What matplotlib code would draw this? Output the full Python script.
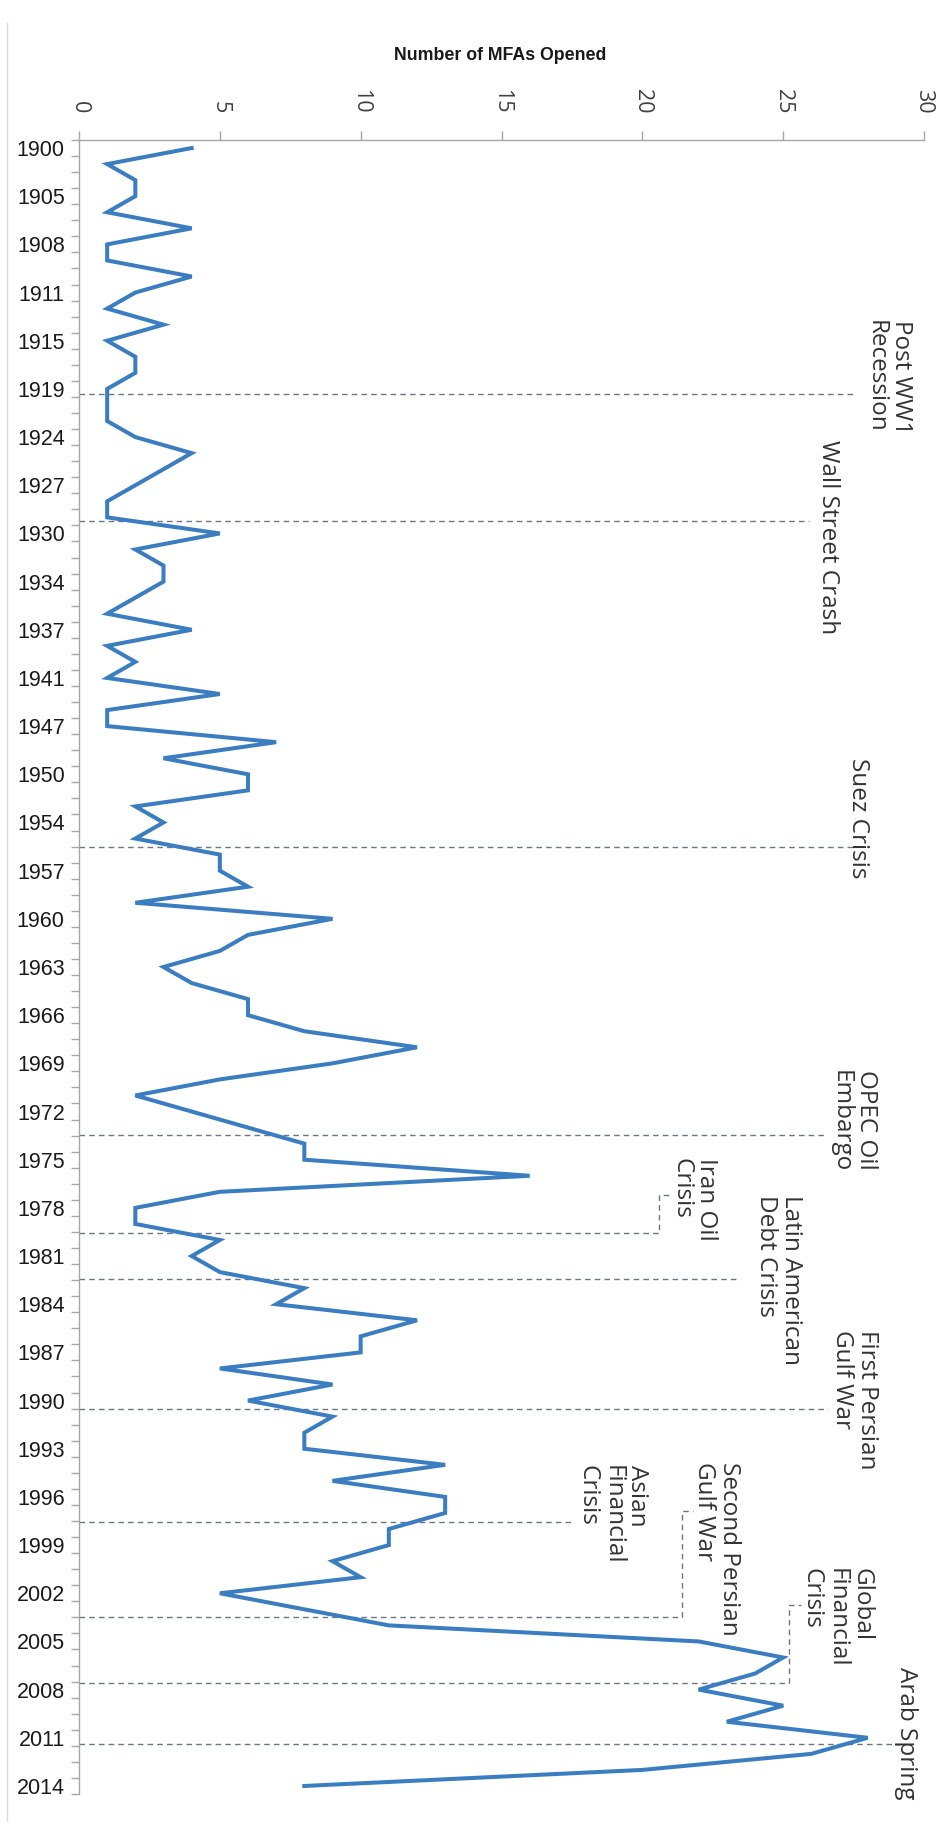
import numpy as np
import matplotlib
matplotlib.use("Agg")
import matplotlib.pyplot as plt
from matplotlib.lines import Line2D

# MFAs opened per category, top to bottom (one category per listed year)
counts = [4, 1, 2, 2, 1, 4, 1, 1, 4, 2, 1, 3, 1, 2, 2, 1, 1, 1,
          2, 4, 3, 2, 1, 1, 5, 2, 3, 3, 2, 1, 4, 1, 2, 1, 5, 1,
          1, 7, 3, 6, 6, 2, 3, 2, 5, 5, 6, 2, 9, 6, 5, 3, 4, 6,
          6, 8, 12, 9, 5, 2, 4, 6, 8, 8, 16, 5, 2, 2, 5, 4, 5, 8,
          7, 12, 10, 10, 5, 9, 6, 9, 8, 8, 13, 9, 13, 13, 11, 11,
          9, 10, 5, 8, 11, 22, 25, 24, 22, 25, 23, 28, 26, 20, 8]

# every third category carries a year label
tick_years = [1900, 1905, 1908, 1911, 1915, 1919, 1924, 1927, 1930, 1934,
              1937, 1941, 1947, 1950, 1954, 1957, 1960, 1963, 1966, 1969,
              1972, 1975, 1978, 1981, 1984, 1987, 1990, 1993, 1996, 1999,
              2002, 2005, 2008, 2011, 2014]

value_ticks = [0, 5, 10, 15, 20, 25, 30]

# crisis markers: label and category position of the marker line
event_names = ["Post WW1\nRecession", "Wall Street Crash", "Suez Crisis",
               "OPEC Oil\nEmbargo", "Iran Oil\nCrisis",
               "Latin American\nDebt Crisis", "First Persian\nGulf War",
               "Asian\nFinancial\nCrisis", "Second Persian\nGulf War",
               "Global\nFinancial\nCrisis", "Arab Spring"]
event_pos = [15.34, 23.2, 43.55, 61.48, 67.55, 70.45, 78.52, 85.54,
             91.46, 95.57, 99.4]

# line end, elbow (top, tail) or None, label anchor (x, y)
event_layout = [
    (27.5, None, (29.6, 10.7)),
    (25.9, None, (27.0, 18.2)),
    (27.6, None, (28.1, 38.0)),
    (26.5, None, (28.35, 57.4)),
    (20.6, (65.2, 21.0), (22.7, 62.9)),
    (23.4, None, (25.7, 65.2)),
    (26.6, None, (28.4, 73.6)),
    (17.5, None, (20.25, 82.0)),
    (21.4, (84.86, 21.8), (23.5, 81.8)),
    (25.2, (90.73, 25.65), (28.2, 88.4)),
    (29.1, None, (29.8, 94.6)),
]

W, H = 944, 1822
fig = plt.figure(figsize=(W / 100, H / 100), dpi=100)
fig.patch.set_facecolor("white")

ax = fig.add_axes([79 / W, (H - 1794) / H, 845 / W, 1654 / H])
idx = np.arange(len(counts))
ax.plot(counts, idx, color="#3b7dc1", lw=2.9, solid_joinstyle="miter",
        zorder=3)

ax.set_xlim(0, 30)
ax.set_ylim(len(counts) - 0.5, -0.5)

axis_gray = "#a6a6a6"
for side in ("right", "bottom"):
    ax.spines[side].set_visible(False)
for side in ("left", "top"):
    ax.spines[side].set_color(axis_gray)
    ax.spines[side].set_linewidth(1.0)

# value axis along the top, labels turned
ax.xaxis.tick_top()
ax.set_xticks(value_ticks)
ax.set_xticklabels([str(v) for v in value_ticks], rotation=-90,
                   family=["Open Sans", "DejaVu Sans"], fontsize=15.5,
                   color="#404040")
ax.tick_params(axis="x", direction="out", length=6.5, width=1.0,
               color=axis_gray, pad=12.5)

# category axis: tick marks between categories, labels at centres
ax.set_yticks(np.arange(0, len(counts), 3))
ax.set_yticklabels([str(y) for y in tick_years],
                   family=["Liberation Sans", "DejaVu Sans"],
                   fontsize=15.5, color="#1a1a1a")
ax.set_yticks(np.arange(-0.5, len(counts), 1), minor=True)
ax.tick_params(axis="y", which="major", length=0, pad=10.3)
ax.tick_params(axis="y", which="minor", direction="out", length=5.8,
               width=1.0, color=axis_gray)

# crisis markers
dash_color = "#6b7685"
for name, pos, (end, elbow, (tx, ty)) in zip(event_names, event_pos,
                                            event_layout):
    xs, ys = [0, end], [pos, pos]
    if elbow is not None:
        top, tail = elbow
        xs += [end, tail]
        ys += [top, top]
    ax.plot(xs, ys, color=dash_color, lw=1.0, ls=(0, (4, 3)), zorder=2,
            clip_on=False)
    ax.text(tx, ty, name, rotation=-90, ha="right", va="top",
            multialignment="left", linespacing=1.05,
            family=["Open Sans", "DejaVu Sans"], fontsize=17.5,
            color="#333333", clip_on=False)

fig.text(500 / W, 1 - 56 / H, "Number of MFAs Opened", ha="center",
         va="center", fontsize=12.8, fontweight="bold",
         family=["Liberation Sans", "DejaVu Sans"], color="#1a1a1a")

# chart area edge on the left
fig.add_artist(Line2D([7 / W, 7 / W], [0, 1 - 23 / H], color="#d9d9d9",
                      lw=1.0))

fig.savefig("out.png", dpi=100, facecolor="white")
